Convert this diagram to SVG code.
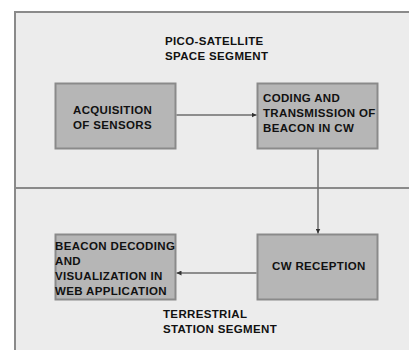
<svg xmlns="http://www.w3.org/2000/svg" width="409" height="350" viewBox="0 0 409 350">
<defs>
<style>
.t{font-family:"Liberation Sans",Arial,sans-serif;font-weight:bold;font-size:11.5px;fill:#111;letter-spacing:0.35px}
.box{fill:#b6b6b6;stroke:#8a8a8a;stroke-width:2}
.ln{stroke:#6e6e6e;stroke-width:1.5;fill:none}
.fr{stroke:#8a8a8a;stroke-width:2;fill:none}
</style>
<marker id="ah" viewBox="0 0 6 6" refX="6" refY="3" markerWidth="5" markerHeight="5" orient="auto" markerUnits="userSpaceOnUse">
<path d="M0,0L6,3L0,6z" fill="#333"/>
</marker>
</defs>
<rect width="409" height="350" fill="#ffffff"/>
<rect x="15" y="12" width="400" height="345" fill="#ececec"/>
<g id="frame">
<path class="fr" d="M15,350V12H409"/>
<path class="fr" d="M15,188H409"/>
</g>
<g id="title-space">
<text class="t" x="165" y="45">PICO-SATELLITE</text>
<text class="t" x="165" y="60">SPACE SEGMENT</text>
</g>
<g id="title-ground">
<text class="t" x="163" y="318">TERRESTRIAL</text>
<text class="t" x="163" y="333">STATION SEGMENT</text>
</g>
<g id="acq">
<rect class="box" x="55.5" y="83.5" width="120" height="65"/>
<text class="t" x="73" y="114">ACQUISITION</text>
<text class="t" x="73" y="129">OF SENSORS</text>
</g>
<g id="coding">
<rect class="box" x="257.5" y="83.5" width="120" height="65"/>
<text class="t" x="263" y="102">CODING AND</text>
<text class="t" x="263" y="117">TRANSMISSION OF</text>
<text class="t" x="263" y="132">BEACON IN CW</text>
</g>
<g id="reception">
<rect class="box" x="257.5" y="234.5" width="120" height="65"/>
<text class="t" x="272" y="270">CW RECEPTION</text>
</g>
<g id="decoding">
<rect class="box" x="55.5" y="234.5" width="120" height="65"/>
<text class="t" x="55" y="250">BEACON DECODING</text>
<text class="t" x="55" y="265">AND</text>
<text class="t" x="55" y="280">VISUALIZATION IN</text>
<text class="t" x="55" y="295">WEB APPLICATION</text>
</g>
<g id="connectors">
<line class="ln" x1="176.5" y1="115" x2="256.5" y2="115" marker-end="url(#ah)"/>
<line class="ln" x1="318" y1="149.5" x2="318" y2="233.5" marker-end="url(#ah)"/>
<line class="ln" x1="256.5" y1="273" x2="176.5" y2="273" marker-end="url(#ah)"/>
</g>
</svg>
